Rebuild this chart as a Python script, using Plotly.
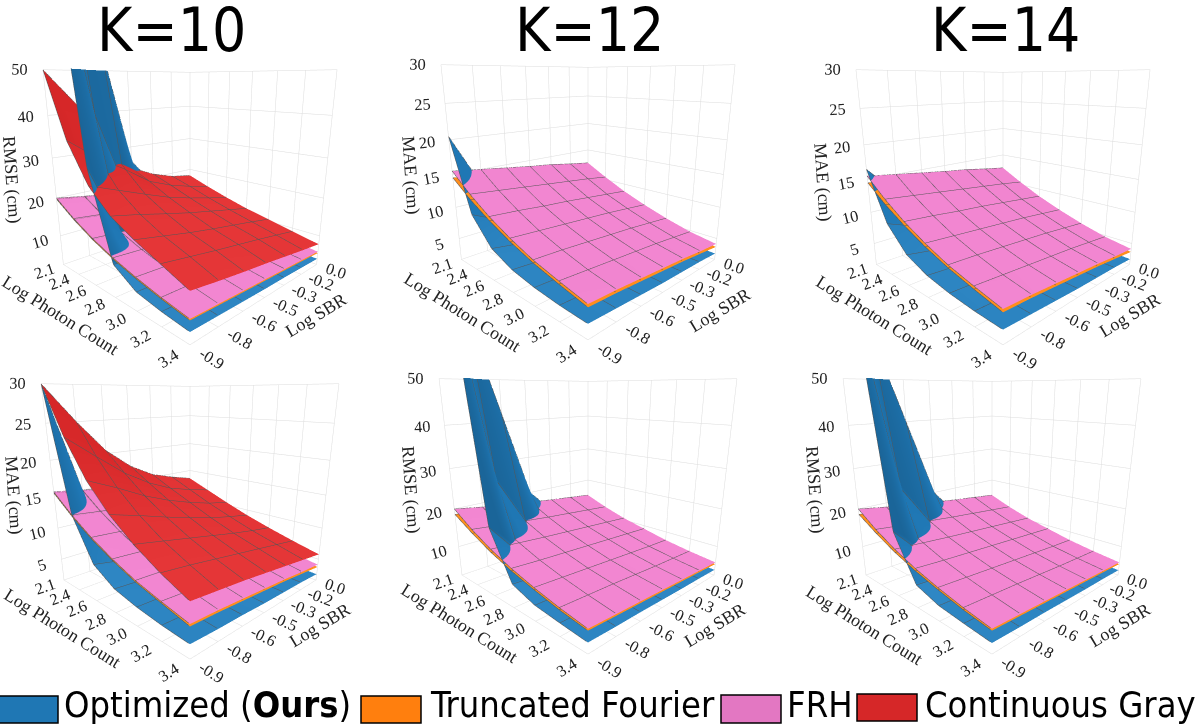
import plotly.graph_objects as go

photon = [2.146, 2.363, 2.58, 2.797, 3.013, 3.23, 3.447]
sbr = [-0.9, -0.75, -0.6, -0.45, -0.3, -0.15, 0.0]
photon_labels = ["2.1", "2.4", "2.6", "2.8", "3.0", "3.2", "3.4"]
sbr_labels = ["-0.9", "-0.8", "-0.6", "-0.5", "-0.3", "-0.2", "0.0"]

BLUE, ORANGE, PINK, RED = "#1f77b4", "#ff7f0e", "#e377c2", "#d62728"
legend_names = ["Optimized (<b>Ours</b>)", "Truncated Fourier", "FRH", "Continuous Gray"]
col_titles = ["K=10", "K=12", "K=14"]

red_rmse = [
 [50, 35, 26, 21, 18, 15.5, 13],
 [42, 30, 23.5, 19.5, 16.6, 14.4, 12],
 [32, 26, 21, 17.8, 15.2, 13.3, 11.1],
 [24, 21.5, 18.6, 16.2, 14, 12.3, 10.3],
 [21, 19, 16.8, 14.8, 12.9, 11.3, 9.4],
 [19, 17.2, 15.2, 13.4, 11.8, 10.2, 8.5],
 [18, 15.8, 13.8, 12, 10.6, 9.1, 7.7]]
pink_rmse = [
 [20, 16.6, 13.8, 11.6, 9.9, 8.5, 7.4],
 [18.9, 15.8, 13.2, 11.1, 9.5, 8.2, 7.1],
 [18, 15.1, 12.6, 10.7, 9.1, 7.9, 6.8],
 [17.2, 14.4, 12.1, 10.3, 8.7, 7.5, 6.5],
 [16.4, 13.8, 11.6, 9.9, 8.3, 7.1, 6.2],
 [15.7, 13.2, 11.1, 9.5, 7.9, 6.8, 5.9],
 [15, 12.6, 10.6, 9.1, 7.6, 6.5, 5.6]]
orange_rmse_k10 = [
 [19.7, 16.3, 13.5, 11.3, 9.6, 8.2, 7.1],
 [18.6, 15.5, 12.9, 10.8, 9.2, 7.9, 6.8],
 [17.7, 14.8, 12.3, 10.4, 8.8, 7.6, 6.5],
 [16.9, 14.1, 11.8, 10, 8.4, 7.2, 6.2],
 [16.1, 13.5, 11.3, 9.6, 8, 6.8, 5.9],
 [15.4, 12.9, 10.8, 9.2, 7.6, 6.5, 5.6],
 [14.7, 12.3, 10.3, 8.8, 7.3, 6.2, 5.2]]
orange_rmse_k12 = [
 [18.6, 15.6, 13, 11, 9.4, 8, 7],
 [17.7, 14.9, 12.5, 10.6, 9, 7.8, 6.7],
 [16.9, 14.3, 12, 10.2, 8.6, 7.5, 6.4],
 [16.2, 13.7, 11.5, 9.8, 8.2, 7.1, 6.1],
 [15.5, 13.1, 11, 9.4, 7.8, 6.7, 5.8],
 [14.9, 12.5, 10.5, 9, 7.4, 6.4, 5.5],
 [14.2, 12, 10, 8.6, 7.1, 6.1, 5.1]]
blue_rmse_k10 = [
 [95, 80, 30, 10, 6.5, 5.4, 4.7],
 [78, 40, 13, 9.5, 6.2, 5.1, 4.5],
 [56, 20, 11, 8.8, 5.9, 4.9, 4.3],
 [26, 14, 9.5, 7.8, 5.6, 4.7, 4.1],
 [18, 12, 9, 7, 5.3, 4.5, 4.0],
 [14, 10, 8, 6.4, 5, 4.3, 3.8],
 [12, 9, 7.2, 5.9, 4.7, 4.1, 3.6]]
blue_rmse_k12 = [
 [85, 70, 19, 7.8, 5.8, 5.1, 4.5],
 [64, 27, 10.5, 7.4, 5.6, 4.9, 4.3],
 [42, 15, 9, 7, 5.4, 4.7, 4.2],
 [20, 11, 8, 6.5, 5.2, 4.5, 4],
 [13, 9.5, 7.5, 6, 5, 4.3, 3.8],
 [11, 8.6, 7.1, 5.6, 4.7, 4.1, 3.7],
 [9.5, 7.8, 6.5, 5.3, 4.4, 3.9, 3.5]]
blue_rmse_k14 = [
 [80, 66, 18, 7.6, 5.7, 5, 4.4],
 [60, 25, 10.2, 7.2, 5.5, 4.8, 4.2],
 [40, 15, 8.7, 6.8, 5.3, 4.6, 4.1],
 [20, 10.5, 7.8, 6.3, 5.1, 4.4, 3.9],
 [12, 9.2, 7.4, 5.8, 4.9, 4.2, 3.7],
 [10.5, 8.3, 6.9, 5.4, 4.6, 4, 3.6],
 [9.2, 7.5, 6.3, 5.1, 4.3, 3.8, 3.4]]

red_mae = [
 [30, 23.5, 18.5, 15, 12.4, 10.3, 8.6],
 [25, 20.5, 16.8, 13.9, 11.6, 9.8, 8.2],
 [20.5, 17.6, 14.9, 12.7, 10.8, 9.2, 7.8],
 [17.5, 15.4, 13.4, 11.6, 10, 8.6, 7.3],
 [15.5, 13.8, 12.2, 10.6, 9.2, 8, 6.8],
 [14.4, 12.8, 11.2, 9.8, 8.5, 7.4, 6.3],
 [13.5, 12, 10.5, 9.1, 7.9, 6.8, 5.8]]
pink_mae = [
 [15.5, 13, 10.9, 9.2, 7.8, 6.8, 5.9],
 [15, 12.6, 10.6, 8.9, 7.6, 6.5, 5.7],
 [14.5, 12.2, 10.2, 8.6, 7.3, 6.2, 5.4],
 [14, 11.8, 9.9, 8.3, 7, 5.9, 5.1],
 [13.6, 11.4, 9.5, 8, 6.7, 5.6, 4.8],
 [13, 11, 9.1, 7.6, 6.3, 5.2, 4.4],
 [12.5, 10.5, 8.7, 7.2, 5.9, 4.8, 4.1]]
orange_mae_k10 = [
 [15.3, 12.8, 10.7, 9, 7.6, 6.6, 5.6],
 [14.8, 12.4, 10.4, 8.7, 7.4, 6.3, 5.4],
 [14.3, 12, 10, 8.4, 7.1, 6, 5.1],
 [13.8, 11.6, 9.7, 8.1, 6.8, 5.7, 4.8],
 [13.4, 11.2, 9.3, 7.8, 6.5, 5.4, 4.5],
 [12.8, 10.8, 8.9, 7.4, 6.1, 5, 4.1],
 [12.3, 10.3, 8.5, 7, 5.7, 4.6, 3.7]]
orange_mae_k12 = [
 [14.5, 12.2, 10.3, 8.7, 7.4, 6.4, 5.5],
 [14.1, 11.8, 10, 8.4, 7.1, 6.1, 5.3],
 [13.6, 11.4, 9.6, 8.1, 6.8, 5.8, 5],
 [13.1, 11, 9.3, 7.8, 6.5, 5.5, 4.7],
 [12.7, 10.6, 8.9, 7.5, 6.2, 5.2, 4.4],
 [12.2, 10.2, 8.5, 7.1, 5.8, 4.8, 4],
 [11.7, 9.7, 8.1, 6.7, 5.4, 4.4, 3.6]]
blue_mae_k10 = [
 [30, 13, 7, 5, 4.2, 3.7, 3.4],
 [15, 9.5, 6.2, 4.7, 4, 3.5, 3.2],
 [10.5, 7.5, 5.6, 4.4, 3.8, 3.3, 3.1],
 [8.5, 6.5, 5.1, 4.1, 3.6, 3.2, 2.9],
 [7.4, 5.8, 4.7, 3.9, 3.4, 3, 2.8],
 [6.6, 5.2, 4.3, 3.6, 3.2, 2.9, 2.7],
 [6, 4.8, 4, 3.4, 3, 2.7, 2.5]]
blue_mae_k12 = [
 [20.5, 10, 6.3, 4.8, 4.1, 3.7, 3.5],
 [12.5, 8, 5.6, 4.5, 3.9, 3.5, 3.3],
 [9.5, 6.7, 5.1, 4.2, 3.7, 3.3, 3.1],
 [8, 5.9, 4.7, 3.9, 3.5, 3.1, 2.9],
 [7, 5.3, 4.3, 3.7, 3.3, 3, 2.8],
 [6.4, 4.9, 4, 3.5, 3.1, 2.8, 2.7],
 [6, 4.6, 3.8, 3.3, 2.9, 2.7, 2.5]]
blue_mae_k14 = [
 [16.5, 9.4, 6.1, 4.7, 4, 3.6, 3.4],
 [12, 7.8, 5.4, 4.4, 3.8, 3.4, 3.2],
 [9.2, 6.5, 5, 4.1, 3.6, 3.2, 3],
 [7.8, 5.7, 4.6, 3.8, 3.4, 3, 2.8],
 [6.8, 5.2, 4.2, 3.6, 3.2, 2.9, 2.7],
 [6.2, 4.8, 3.9, 3.4, 3, 2.7, 2.6],
 [5.8, 4.5, 3.7, 3.2, 2.8, 2.6, 2.4]]

W, H = 1199, 727
def dom(cx, cy, hh=165):
    hw = min(cx, W - cx, 200)
    return ([(cx - hw) / W, (cx + hw) / W], [1 - (cy + hh) / H, 1 - (cy - hh) / H])

RM = dict(ztitle="RMSE (cm)", zr=[2, 50], zt=[10, 20, 30, 40, 50])
MA = dict(ztitle="MAE (cm)", zr=[1.5, 30], zt=[5, 10, 15, 20, 25, 30])
panels = [
 dict(RM, cen=(190, 205), cz=-0.167, zp=(11, 180), xp=(60, 315), yp=(316, 315),
      s=[(blue_rmse_k10, BLUE), (orange_rmse_k10, ORANGE), (pink_rmse, PINK), (red_rmse, RED)]),
 dict(MA, cen=(588, 200), cz=-0.167, zp=(411, 175), xp=(462, 312), yp=(720, 310),
      s=[(blue_mae_k12, BLUE), (orange_mae_k12, ORANGE), (pink_mae, PINK)]),
 dict(MA, cen=(1003, 205), cz=-0.167, zp=(823, 182), xp=(874, 315), yp=(1130, 315),
      s=[(blue_mae_k14, BLUE), (orange_mae_k12, ORANGE), (pink_mae, PINK)]),
 dict(MA, cen=(190, 535), cz=-0.247, zp=(14, 495), xp=(62, 628), yp=(320, 625),
      s=[(blue_mae_k10, BLUE), (orange_mae_k10, ORANGE), (pink_mae, PINK), (red_mae, RED)]),
 dict(RM, cen=(588, 530), cz=-0.247, zp=(411, 490), xp=(459, 623), yp=(715, 625),
      s=[(blue_rmse_k12, BLUE), (orange_rmse_k12, ORANGE), (pink_rmse, PINK)]),
 dict(RM, cen=(992, 530), cz=-0.247, zp=(815, 490), xp=(864, 625), yp=(1120, 625),
      s=[(blue_rmse_k14, BLUE), (orange_rmse_k12, ORANGE), (pink_rmse, PINK)]),
]

SERIF = "Liberation Serif"
fig = go.Figure()
layout = {}
annotations = []
def label(text, pos, angle):
    annotations.append(dict(text=text, x=pos[0] / W, y=1 - pos[1] / H, xref="paper", yref="paper", showarrow=False,
                            xanchor="center", yanchor="middle", textangle=angle,
                            font=dict(family=SERIF, size=18, color="#222")))

for i, p in enumerate(panels):
    name = "scene" if i == 0 else f"scene{i+1}"
    for z, c in p["s"]:
        fig.add_trace(go.Surface(
            x=photon, y=sbr, z=z, scene=name, showscale=False, cmin=0, cmax=1,
            surfacecolor=[[0.5] * 7] * 7, colorscale=[[0, c], [1, c]],
            lighting=dict(ambient=0.85, diffuse=0.5, specular=0.05, roughness=0.5),
            contours=dict(
                x=dict(show=True, color="#555555", width=1, highlight=False),
                y=dict(show=True, color="#555555", width=1, highlight=False),
                z=dict(highlight=False)),
            hoverinfo="skip"))
    common = dict(showbackground=False, gridcolor="#dcdcdc", gridwidth=1, showline=False, zeroline=False,
                  showspikes=False, ticks="", title=dict(text=""),
                  tickfont=dict(family=SERIF, size=14, color="#222"))
    dx, dy = dom(*p["cen"])
    layout[name] = dict(
        domain=dict(x=dx, y=dy),
        xaxis=dict(tickvals=photon, ticktext=photon_labels, range=[photon[0], photon[-1]], **common),
        yaxis=dict(tickvals=sbr, ticktext=sbr_labels, range=[sbr[0], sbr[-1]], **common),
        zaxis=dict(tickvals=p["zt"], range=p["zr"], **common),
        aspectmode="manual", aspectratio=dict(x=1, y=1, z=1.03),
        camera=dict(eye=dict(x=1.43, y=-1.43, z=0.47), center=dict(x=0, y=0, z=p["cz"])),
    )
    label(p["ztitle"], p["zp"], 86)
    label("Log Photon Count", p["xp"], 32)
    label("Log SBR", p["yp"], -31)

for t, cx in zip(col_titles, [171, 589, 1005]):
    annotations.append(dict(text=t, x=cx / W, y=1 - 30 / H, xref="paper", yref="paper", showarrow=False,
                            xanchor="center", yanchor="middle",
                            font=dict(family="DejaVu Sans Condensed", size=60, color="black")))
shapes = []
leg_box = [(-8, 58), (361, 421), (721, 781), (857, 917)]
leg_y = [(696, 723), (696, 723), (695, 723), (694, 721)]
leg_text = [62, 428, 785, 923]
for (x0, x1), (y0, y1), tx, nm, c in zip(leg_box, leg_y, leg_text, legend_names, [BLUE, ORANGE, PINK, RED]):
    shapes.append(dict(type="rect", xref="paper", yref="paper", x0=x0 / W, x1=x1 / W,
                       y0=1 - y1 / H, y1=1 - y0 / H, fillcolor=c, line=dict(color="black", width=1.5)))
    annotations.append(dict(text=nm, x=tx / W, y=1 - 704 / H, xref="paper", yref="paper", showarrow=False,
                            xanchor="left", yanchor="middle",
                            font=dict(family="DejaVu Sans Condensed", size=36, color="black")))

fig.update_layout(width=W, height=H, margin=dict(l=0, r=0, t=0, b=0), paper_bgcolor="white",
                  showlegend=False, annotations=annotations, shapes=shapes, **layout)
fig.write_html("out.html", post_script="document.body.style.margin='0';", config=dict(displayModeBar=False))
